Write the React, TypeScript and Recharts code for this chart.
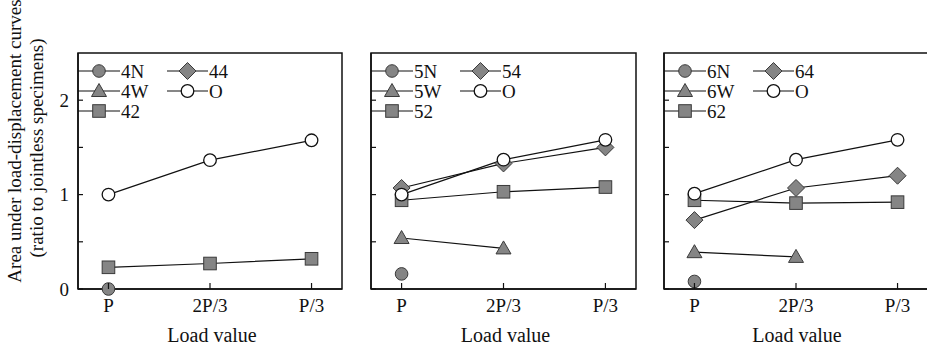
import React from 'react';
import { LineChart, Line, XAxis, YAxis, ReferenceArea } from 'recharts';

// ---------- data ----------
const categories = ['P', '2P/3', 'P/3'];
const yTicks = [0, 0.5, 1, 1.5, 2];
const yTickLabels = ['0', '', '1', '', '2'];

// panel 4
const names4 = ['4N', '4W', '42', '44', 'O'];
const n4 = [0, null, null];
const w4 = [null, null, null];
const s42 = [0.23, 0.27, 0.32];
const s44 = [null, null, null];
const o4 = [1.0, 1.365, 1.575];

// panel 5
const names5 = ['5N', '5W', '52', '54', 'O'];
const n5 = [0.16, null, null];
const w5 = [0.54, 0.43, null];
const s52 = [0.94, 1.03, 1.08];
const s54 = [1.07, 1.33, 1.5];
const o5 = [1.0, 1.37, 1.58];

// panel 6
const names6 = ['6N', '6W', '62', '64', 'O'];
const n6 = [0.08, null, null];
const w6 = [0.39, 0.34, null];
const s62 = [0.94, 0.91, 0.92];
const s64 = [0.73, 1.07, 1.2];
const o6 = [1.01, 1.37, 1.58];

// ---------- styles ----------
const SERIF = 'Liberation Serif, Times New Roman, DejaVu Serif, serif';
const GRAY = '#858585';
const DARK = '#3a3a3a';
const INK = '#111';
const shapes = ['circle', 'triangle', 'square', 'diamond', 'open'];
const txtStyle = { fontFamily: SERIF };

function marker(shape: string, cx: number, cy: number, key: string) {
  switch (shape) {
    case 'circle':
      return <circle key={key} cx={cx} cy={cy} r={6.3} fill={GRAY} stroke={DARK} strokeWidth={1} />;
    case 'triangle':
      return (
        <path
          key={key}
          d={`M${cx},${cy - 7.5} L${cx + 7.5},${cy + 5.5} L${cx - 7.5},${cy + 5.5} Z`}
          fill={GRAY}
          stroke={DARK}
          strokeWidth={1}
        />
      );
    case 'square':
      return <rect key={key} x={cx - 6.3} y={cy - 6.3} width={12.6} height={12.6} fill={GRAY} stroke={DARK} strokeWidth={1} />;
    case 'diamond':
      return (
        <path
          key={key}
          d={`M${cx},${cy - 8.5} L${cx + 8.5},${cy} L${cx},${cy + 8.5} L${cx - 8.5},${cy} Z`}
          fill={GRAY}
          stroke={DARK}
          strokeWidth={1}
        />
      );
    default:
      return <circle key={key} cx={cx} cy={cy} r={6.3} fill="#fff" stroke={INK} strokeWidth={1.3} />;
  }
}

function buildRows(series: (number | null)[][]) {
  return categories.map((c, i) => {
    const row: any = { x: i, label: c };
    series.forEach((s, k) => {
      row['s' + k] = s[i];
    });
    return row;
  });
}

const panels = [
  { names: names4, series: [n4, w4, s42, s44, o4], boxLeft: 78, boxRight: 342, showYLabels: true },
  { names: names5, series: [n5, w5, s52, s54, o5], boxLeft: 371, boxRight: 636, showYLabels: false },
  { names: names6, series: [n6, w6, s62, s64, o6], boxLeft: 664, boxRight: 928, showYLabels: false },
];

const TOP = 53;
const BOTTOM = 289;
const CH = 350;

function XTick(props: any) {
  const { x, y, payload } = props;
  return (
    <g>
      <line x1={x} x2={x} y1={y} y2={y - 6} stroke={INK} strokeWidth={1.2} />
      <text x={x} y={y + 23} textAnchor="middle" fontSize={19} fontFamily={SERIF} style={txtStyle} fill={INK}>
        {categories[payload.value]}
      </text>
    </g>
  );
}

function makeYTick(show: boolean) {
  return (props: any) => {
    const { x, y, payload } = props;
    const idx = yTicks.indexOf(payload.value);
    return (
      <g>
        <line x1={x} x2={x + 5} y1={y} y2={y} stroke={INK} strokeWidth={1.2} />
        {show && (
          <text x={x - 9} y={y} dy="0.35em" textAnchor="end" fontSize={19} fontFamily={SERIF} style={txtStyle} fill={INK}>
            {yTickLabels[idx]}
          </text>
        )}
      </g>
    );
  };
}

function Panel({ p }: { p: (typeof panels)[number] }) {
  const rows = buildRows(p.series);
  const ml = 10;
  const yw = 40;
  const mr = 10;
  const plotW = p.boxRight - p.boxLeft;
  const width = plotW + ml + yw + mr;
  const left = p.boxLeft - ml - yw;
  return (
    <div style={{ position: 'absolute', left, top: 0, width, height: CH }}>
      <LineChart width={width} height={CH} data={rows} margin={{ top: TOP, right: mr, bottom: CH - BOTTOM - 40, left: ml }}>
        <XAxis
          dataKey="x"
          type="number"
          domain={[-0.3, 2.3]}
          ticks={[0, 1, 2]}
          height={40}
          tickSize={0}
          tickMargin={0}
          tick={<XTick />}
          axisLine={{ stroke: INK, strokeWidth: 1.5 }}
          interval={0}
        />
        <YAxis
          type="number"
          domain={[0, 2.5]}
          ticks={yTicks}
          width={yw}
          tickSize={0}
          tickMargin={0}
          tick={makeYTick(p.showYLabels)}
          axisLine={{ stroke: INK, strokeWidth: 1.5 }}
          interval={0}
        />
        <ReferenceArea x1={-0.3} x2={2.3} y1={0} y2={2.5} fill="none" stroke={INK} strokeWidth={1.5} ifOverflow="visible" />
        {p.series.map((s, k) => (
          <Line
            key={k}
            dataKey={'s' + k}
            name={p.names[k]}
            stroke={INK}
            strokeWidth={1.2}
            isAnimationActive={false}
            connectNulls={false}
            dot={(dp: any) =>
              dp.cy == null || dp.value == null ? (
                <g key={`d${k}-${dp.index}`} />
              ) : (
                marker(shapes[k], dp.cx, dp.cy, `d${k}-${dp.index}`)
              )
            }
            activeDot={false}
          />
        ))}
      </LineChart>
    </div>
  );
}

// legend layout: [column, row] per series index
const legendPos = [
  [0, 0],
  [0, 1],
  [0, 2],
  [1, 0],
  [1, 1],
];
const rowY = [71, 91, 111];
const colLine = [
  [0, 42],
  [89, 130],
];

function Overlay() {
  return (
    <svg width={927} height={CH} style={{ position: 'absolute', left: 0, top: 0, pointerEvents: 'none' }}>
      {panels.map((p, pi) => (
        <g key={pi}>
          {p.names.map((n, k) => {
            const [c, r] = legendPos[k];
            const [a, b] = colLine[c];
            const y = rowY[r];
            const x0 = p.boxLeft + a;
            const x1 = p.boxLeft + b;
            const mx = (x0 + x1) / 2;
            return (
              <g key={k}>
                <line x1={x0} x2={x1} y1={y} y2={y} stroke={INK} strokeWidth={1.2} />
                {marker(shapes[k], mx, y, 'lm' + k)}
                <text x={x1 + 1} y={y + 6.5} fontSize={19} fontFamily={SERIF} style={txtStyle} fill={INK}>
                  {n}
                </text>
              </g>
            );
          })}
          <text
            x={(p.boxLeft + Math.min(p.boxRight, 926)) / 2 + 2}
            y={342}
            textAnchor="middle"
            fontSize={20}
            fontFamily={SERIF}
            style={txtStyle}
            fill={INK}
          >
            Load value
          </text>
        </g>
      ))}
      <text transform="translate(21,141) rotate(-90)" textAnchor="middle" fontSize={19} fontFamily={SERIF} style={txtStyle} fill={INK}>
        Area under load-displacement curves
      </text>
      <text transform="translate(43,148) rotate(-90)" textAnchor="middle" fontSize={19} fontFamily={SERIF} style={txtStyle} fill={INK}>
        (ratio to jointless specimens)
      </text>
    </svg>
  );
}

export default function App() {
  return (
    <div
      style={{
        position: 'absolute',
        left: 0,
        top: 0,
        width: 927,
        height: CH,
        overflow: 'hidden',
        background: '#fff',
        fontFamily: SERIF,
      }}
    >
      {panels.map((p, i) => (
        <Panel key={i} p={p} />
      ))}
      <Overlay />
    </div>
  );
}
